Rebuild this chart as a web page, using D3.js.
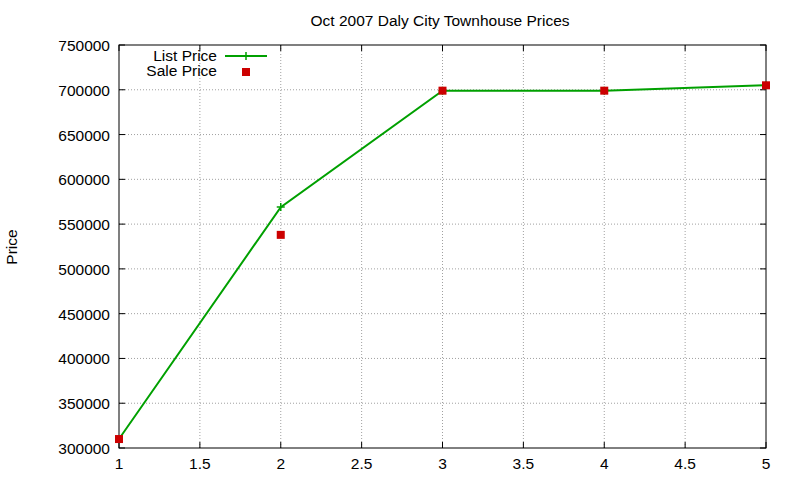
<!DOCTYPE html>
<html><head><meta charset="utf-8">
<script src="https://cdn.jsdelivr.net/npm/d3@7"></script>
<style>body{margin:0;background:#fff}text{font-family:"Liberation Sans",Arial,sans-serif}</style>
</head><body><svg id="c" width="800" height="480"></svg>
<script>
const xs = [1, 2, 3, 4, 5]
const listPrice = [310000, 569000, 699000, 699000, 705000]
const salePrice = [310000, 538000, 699000, 699000, 705000]
const xTicks = [1, 1.5, 2, 2.5, 3, 3.5, 4, 4.5, 5]
const yTicks = [300000, 350000, 400000, 450000, 500000, 550000, 600000, 650000, 700000, 750000]

const svg = d3.select('#c')
const L = 119, R = 766, T = 45, B = 448
const x = d3.scaleLinear().domain([1, 5]).range([L, R])
const y = d3.scaleLinear().domain([300000, 750000]).range([B, T])
const fs = 15.5

// grid
svg.selectAll('.gx').data(xTicks.slice(1, -1)).join('line')
  .attr('x1', d => x(d)).attr('x2', d => x(d)).attr('y1', T).attr('y2', B)
  .attr('stroke', '#a0a0a0').attr('stroke-dasharray', '1,2')
svg.selectAll('.gy').data(yTicks.slice(1, -1)).join('line')
  .attr('y1', d => y(d)).attr('y2', d => y(d)).attr('x1', L).attr('x2', R)
  .attr('stroke', '#a0a0a0').attr('stroke-dasharray', '1,2')

// ticks, both sides inward
xTicks.forEach(t => {
  svg.append('line').attr('x1', x(t)).attr('x2', x(t)).attr('y1', B).attr('y2', B - 6).attr('stroke', '#000')
  svg.append('line').attr('x1', x(t)).attr('x2', x(t)).attr('y1', T).attr('y2', T + 6).attr('stroke', '#000')
  svg.append('text').attr('x', x(t)).attr('y', B + 21).attr('text-anchor', 'middle').attr('font-size', fs).text(t)
})
yTicks.forEach(t => {
  svg.append('line').attr('x1', L).attr('x2', L + 6).attr('y1', y(t)).attr('y2', y(t)).attr('stroke', '#000')
  svg.append('line').attr('x1', R).attr('x2', R - 6).attr('y1', y(t)).attr('y2', y(t)).attr('stroke', '#000')
  svg.append('text').attr('x', L - 9).attr('y', y(t) + 6).attr('text-anchor', 'end').attr('font-size', fs).text(t)
})
svg.append('rect').attr('x', L).attr('y', T).attr('width', R - L).attr('height', B - T)
  .attr('fill', 'none').attr('stroke', '#000')

svg.append('text').attr('x', 440).attr('y', 26).attr('text-anchor', 'middle').attr('font-size', fs)
  .text('Oct 2007 Daly City Townhouse Prices')
svg.append('text').attr('transform', 'translate(17,247) rotate(-90)').attr('text-anchor', 'middle')
  .attr('font-size', fs).text('Price')

const green = '#00a000', red = '#cc0000'
const pts = xs.map((d, i) => ({x: d, l: listPrice[i], s: salePrice[i]}))
svg.append('path').datum(pts)
  .attr('d', d3.line().x(d => x(d.x)).y(d => y(d.l)))
  .attr('fill', 'none').attr('stroke', green).attr('stroke-width', 2)
const plus = (g, cx, cy) => {
  g.append('path').attr('d', `M${cx - 4},${cy}H${cx + 4}M${cx},${cy - 4}V${cy + 4}`)
    .attr('stroke', green).attr('stroke-width', 1.5)
}
pts.forEach(d => plus(svg, x(d.x), y(d.l)))
svg.selectAll('.sp').data(pts).join('rect')
  .attr('x', d => x(d.x) - 4).attr('y', d => y(d.s) - 4).attr('width', 8).attr('height', 8).attr('fill', red)

// legend
svg.append('text').attr('x', 217).attr('y', 61).attr('text-anchor', 'end').attr('font-size', fs).text('List Price')
svg.append('line').attr('x1', 225).attr('x2', 267).attr('y1', 56).attr('y2', 56).attr('stroke', green).attr('stroke-width', 2)
plus(svg, 246, 56)
svg.append('text').attr('x', 217).attr('y', 76).attr('text-anchor', 'end').attr('font-size', fs).text('Sale Price')
svg.append('rect').attr('x', 242).attr('y', 68).attr('width', 8).attr('height', 8).attr('fill', red)
</script></body></html>
